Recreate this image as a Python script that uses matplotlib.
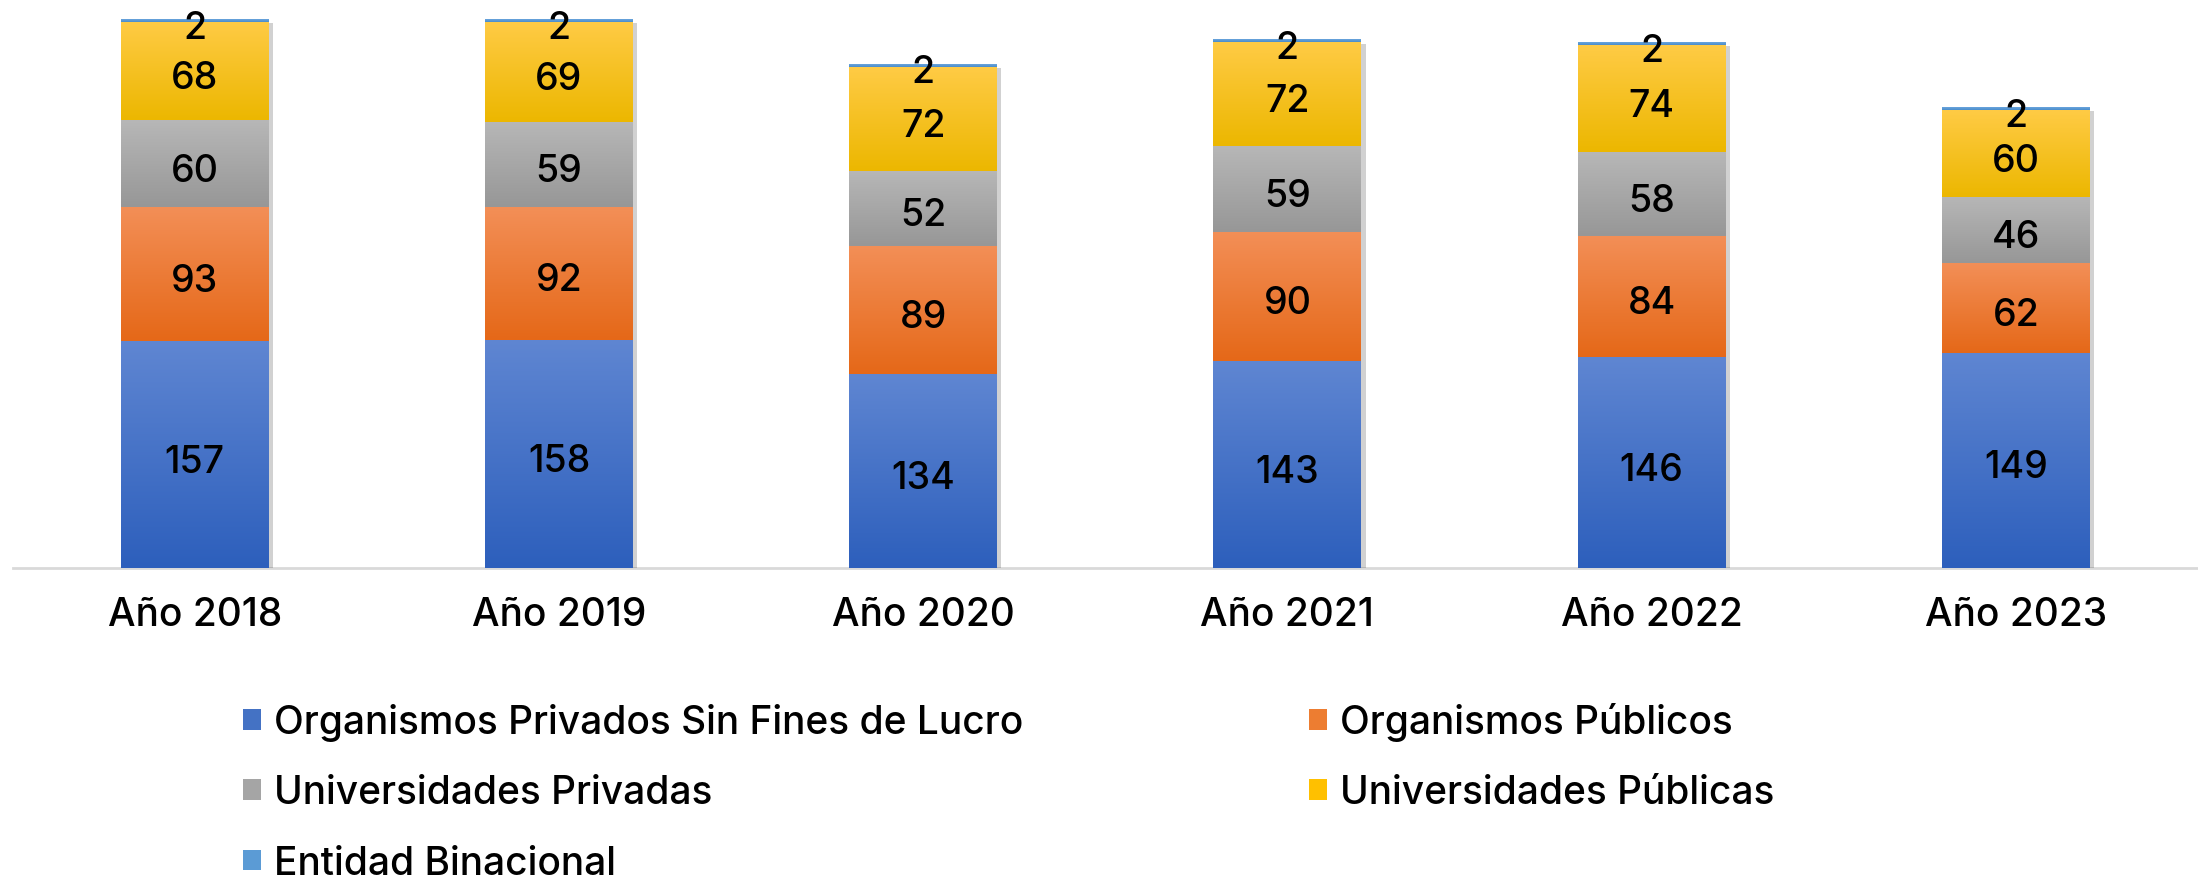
import numpy as np
import matplotlib
matplotlib.use("Agg")
import matplotlib.pyplot as plt
from matplotlib.colors import LinearSegmentedColormap
from matplotlib.patches import Patch
import matplotlib.patheffects as pe
import matplotlib.transforms as mtransforms

plt.rcParams['font.family'] = ['Inter', 'DejaVu Sans']
plt.rcParams['font.weight'] = 'medium'

categories = ["Año 2018", "Año 2019", "Año 2020", "Año 2021", "Año 2022", "Año 2023"]
series_names = ["Organismos Privados Sin Fines de Lucro", "Organismos Públicos",
                "Universidades Privadas", "Universidades Públicas", "Entidad Binacional"]
org_privados = [157, 158, 134, 143, 146, 149]
org_publicos = [93, 92, 89, 90, 84, 62]
univ_privadas = [60, 59, 52, 59, 58, 46]
univ_publicas = [68, 69, 72, 72, 74, 60]
entidad_binacional = [2, 2, 2, 2, 2, 2]
series_values = [org_privados, org_publicos, univ_privadas, univ_publicas, entidad_binacional]

gradients = [("#5F86D2", "#2D5FBC"), ("#F38F57", "#E56818"), ("#B7B7B7", "#979797"),
             ("#FFCB45", "#ECB700"), ("#6AA5DC", "#4A8CCB")]
solid = ["#4472C4", "#ED7D31", "#A5A5A5", "#FFC000", "#5B9BD5"]

W, H = 2198, 879
fig = plt.figure(figsize=(W / 100, H / 100), dpi=100)
ax = fig.add_axes([12.6 / W, 1 - 569 / H, 1 - 12.6 / W, 569 / H])

x = np.arange(len(categories))
bottom = np.zeros(len(categories))
label_offset = mtransforms.offset_copy(ax.transData, fig=fig, x=0, y=-7, units='dots')
for i, (name, vals) in enumerate(zip(series_names, series_values)):
    bars = ax.bar(x, vals, width=0.406, bottom=bottom, color=solid[i], label=name,
                  linewidth=0, zorder=2)
    cmap = LinearSegmentedColormap.from_list("g%d" % i, [gradients[i][1], gradients[i][0]])
    grad = np.linspace(0, 1, 256).reshape(-1, 1)
    for b in bars:
        b.set_path_effects([pe.SimplePatchShadow(offset=(3, -3), shadow_rgbFace='#000000', alpha=0.18),
                            pe.Normal()])
        bx, by = b.get_x(), b.get_y()
        bw, bh = b.get_width(), b.get_height()
        im = ax.imshow(grad, cmap=cmap, aspect='auto', origin='lower',
                       extent=[bx, bx + bw, by, by + bh], zorder=3)
        im.set_clip_path(b)
    for xi, bo, v in zip(x, bottom, vals):
        ax.text(xi, bo + v / 2, str(v), ha='center', va='center', fontsize=27,
                color='black', zorder=5, transform=label_offset)
    bottom += np.array(vals)

ax.set_xlim(-0.5, len(categories) - 0.5)
ax.set_ylim(0, 394)
ax.set_xticks(x)
ax.set_xticklabels(categories, fontsize=28)
ax.tick_params(axis='x', length=0, pad=20)
ax.set_yticks([])
for s in ['top', 'right', 'left']:
    ax.spines[s].set_visible(False)
ax.spines['bottom'].set_color('#D9D9D9')
ax.spines['bottom'].set_linewidth(2)
ax.spines['bottom'].set_zorder(1)

order = [0, 2, 4, 1, 3]
handles = [Patch(facecolor=solid[i], edgecolor='none') for i in order]
labels = [series_names[i] for i in order]
leg = fig.legend(handles, labels, loc='upper left', bbox_to_anchor=(243 / W, 1 - 703 / H),
                 ncol=2, frameon=False, fontsize=28, handlelength=0.45, handleheight=0.45,
                 handletextpad=0.35, columnspacing=7.35, labelspacing=0.86,
                 borderpad=0, borderaxespad=0)

fig.savefig("out.png", dpi=100)
